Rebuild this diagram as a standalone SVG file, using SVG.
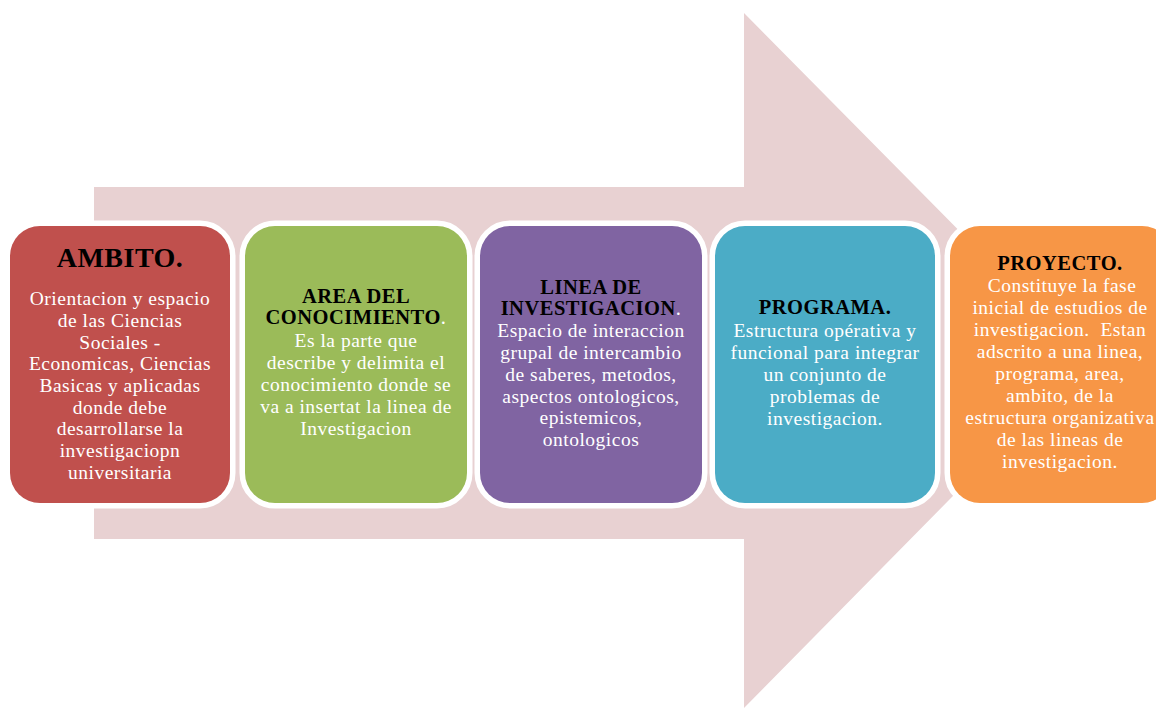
<svg xmlns="http://www.w3.org/2000/svg" width="1156" height="708" viewBox="0 0 1156 708">
<style>
.box{stroke:#fff;stroke-width:11;paint-order:stroke}
.t{font-family:"Liberation Serif","Times New Roman",serif;font-weight:bold;font-size:20.5px;fill:#000;text-anchor:middle;letter-spacing:0.5px}
.b{font-family:"Liberation Serif","Times New Roman",serif;font-size:19.5px;fill:#fff;text-anchor:middle;letter-spacing:0.5px}
.w{fill:#fff;font-weight:normal}
</style>
<rect width="1156" height="708" fill="#fff"/>
<g id="arrow">
<polygon points="94,187 744,187 744,13 1087,360 744,708 744,539 94,539" fill="#E8D1D2"/>
</g>
<g id="connectors"></g>
<g id="ambito">
<rect class="box" x="10" y="226" width="220" height="277" rx="30" fill="#C0504D"/>
<text class="t" x="120" y="267" style="font-size:28px">AMBITO.</text>
<text class="b" x="120" y="305">Orientacion y espacio</text>
<text class="b" x="120" y="327">de las Ciencias</text>
<text class="b" x="120" y="348.5">Sociales -</text>
<text class="b" x="120" y="370">Economicas, Ciencias</text>
<text class="b" x="120" y="392">Basicas y aplicadas</text>
<text class="b" x="120" y="413.5">donde debe</text>
<text class="b" x="120" y="435">desarrollarse la</text>
<text class="b" x="120" y="457">investigaciopn</text>
<text class="b" x="120" y="479">universitaria</text>
</g>
<g id="area">
<rect class="box" x="245" y="226" width="222" height="277" rx="30" fill="#9BBB59"/>
<text class="t" x="356" y="303">AREA DEL</text>
<text class="t" x="356" y="324">CONOCIMIENTO<tspan class="w">.</tspan></text>
<text class="b" x="356" y="347">Es la parte que</text>
<text class="b" x="356" y="369">describe y delimita el</text>
<text class="b" x="356" y="391">conocimiento donde se</text>
<text class="b" x="356" y="413">va a insertat la linea de</text>
<text class="b" x="356" y="435">Investigacion</text>
</g>
<g id="linea">
<rect class="box" x="480" y="226" width="222" height="277" rx="30" fill="#8064A2"/>
<text class="t" x="591" y="294">LINEA DE</text>
<text class="t" x="591" y="315">INVESTIGACION<tspan class="w">.</tspan></text>
<text class="b" x="591" y="337">Espacio de interaccion</text>
<text class="b" x="591" y="358.5">grupal de intercambio</text>
<text class="b" x="591" y="380.5">de saberes, metodos,</text>
<text class="b" x="591" y="402.5">aspectos ontologicos,</text>
<text class="b" x="591" y="424">epistemicos,</text>
<text class="b" x="591" y="446">ontologicos</text>
</g>
<g id="programa">
<rect class="box" x="715" y="226" width="220" height="277" rx="30" fill="#4BACC6"/>
<text class="t" x="825" y="314">PROGRAMA.</text>
<text class="b" x="825" y="337">Estructura opérativa y</text>
<text class="b" x="825" y="358.5">funcional para integrar</text>
<text class="b" x="825" y="381">un conjunto de</text>
<text class="b" x="825" y="403">problemas de</text>
<text class="b" x="825" y="424.5">investigacion.</text>
</g>
<g id="proyecto">
<rect class="box" x="950" y="226" width="222" height="277" rx="30" fill="#F79646"/>
<text class="t" x="1060" y="270">PROYECTO.</text>
<text class="b" x="1062" y="292">Constituye la fase</text>
<text class="b" x="1060" y="314">inicial de estudios de</text>
<text class="b" x="1060" y="336">investigacion. &#160;Estan</text>
<text class="b" x="1060" y="358">adscrito a una linea,</text>
<text class="b" x="1060" y="380">programa, area,</text>
<text class="b" x="1060" y="402">ambito, de la</text>
<text class="b" x="1060" y="424">estructura organizativa</text>
<text class="b" x="1060" y="446">de las lineas de</text>
<text class="b" x="1060" y="468">investigacion.</text>
</g>
</svg>
